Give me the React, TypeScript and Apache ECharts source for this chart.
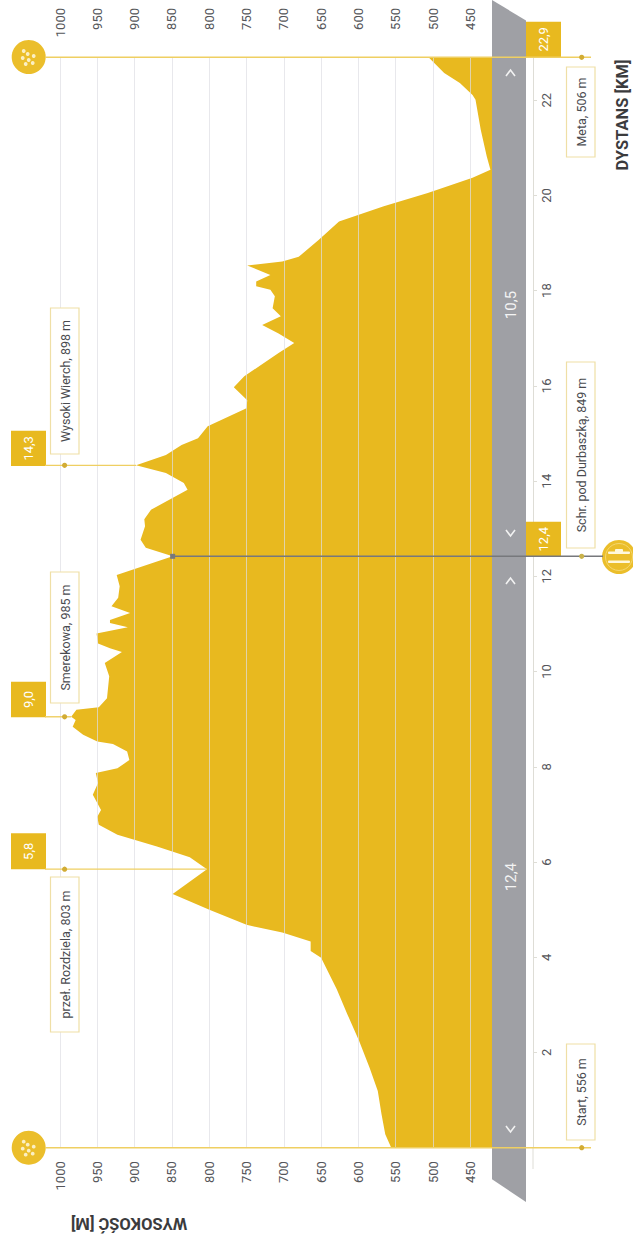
import React, { useEffect, useRef } from "react";
import * as echarts from "echarts";

const WIDTH = 633;
const HEIGHT = 1241;

// Route profile
const profileKm = [0, 0.28, 0.7, 1.19, 1.68, 2.24, 2.81, 3.33, 3.99, 4.13, 4.33, 4.52, 4.68, 4.99, 5.33, 5.85, 6.1, 6.32, 6.57, 6.78, 6.95, 7.09, 7.41, 7.66, 7.87, 7.97, 8.14, 8.32, 8.48, 8.53, 8.67, 8.84, 8.98, 9.05, 9.2, 9.25, 9.44, 9.9, 10.18, 10.41, 10.49, 10.59, 10.8, 10.93, 11.02, 11.08, 11.23, 11.37, 11.55, 11.79, 12.03, 12.42, 12.6, 12.77, 13.05, 13.2, 13.4, 13.82, 13.96, 14.17, 14.33, 14.55, 14.76, 14.9, 15.15, 15.53, 15.7, 15.97, 16.2, 16.69, 16.9, 17.1, 17.28, 17.46, 17.63, 17.88, 18.02, 18.09, 18.19, 18.33, 18.53, 18.61, 18.71, 19.07, 19.45, 19.77, 20.05, 20.37, 20.54, 20.82, 21.38, 22.01, 22.11, 22.36, 22.57, 22.9];
const profileElev = [556, 564, 569, 574, 585, 599, 615, 629, 650, 664, 664, 702, 750, 799, 849, 803, 826, 869, 923, 948, 950, 945, 956, 949, 952, 923, 907, 910, 929, 950, 969, 983, 979, 985, 978, 948, 937, 934, 940, 917, 933, 949, 951, 909, 933, 933, 906, 931, 922, 920, 924, 849, 885, 892, 886, 887, 878, 829, 834, 858, 898, 858, 837, 815, 802, 750, 749, 767, 753, 707, 686, 707, 729, 704, 715, 712, 718, 737, 737, 718, 749, 702, 680, 653, 626, 566, 507, 447, 423, 428, 436, 443, 447, 464, 485, 506];

// Elevation ticks and distance ticks
const elevationTicks = [1000, 950, 900, 850, 800, 750, 700, 650, 600, 550, 500, 450];
const distanceTicks = [2, 4, 6, 8, 10, 12, 14, 16, 18, 20, 22];

// Marked places
const markerKm = [0, 5.85, 9.05, 12.42, 14.33, 22.9];
const markerElev = [556, 803, 985, 849, 898, 506];
const sectionLabels = ["12,4", "10,5"];

const YELLOW = "#E8B91F";
const BOX_LINE = "#EFDFA6";
const GREY = "#9FA0A5";
const TEXT = "#55565A";

const gridLeft = 60;
const gridTop = 57.3;
const gridWidth = 447.6;
const gridHeight = 1090.4;

const rot = Math.PI / 2;

function labelBox(x: number, top: number, bottom: number, text: string) {
  return [
    { type: "rect", shape: { x, y: top, width: 28.5, height: bottom - top }, style: { fill: "#fff", stroke: BOX_LINE, lineWidth: 1.2 } },
    { type: "text", x: x + 14.5, y: (top + bottom) / 2, rotation: rot, style: { text, font: "12.5px Roboto", fill: "#4a4b4f", textAlign: "center", textVerticalAlign: "middle" } },
  ];
}

function numberBox(x: number, top: number, bottom: number, text: string) {
  return [
    { type: "rect", shape: { x, y: top, width: 35, height: bottom - top }, style: { fill: YELLOW } },
    { type: "text", x: x + 17.5, y: (top + bottom) / 2, rotation: rot, style: { text, font: "13px Roboto", fill: "#fff", textAlign: "center", textVerticalAlign: "middle" } },
  ];
}

function chevron(cy: number, up: boolean) {
  const d = up ? 3 : -3;
  return {
    type: "polyline",
    shape: { points: [[506, cy + d], [510.5, cy - d], [515, cy + d]] },
    style: { stroke: "#F2F2F2", lineWidth: 1.6, fill: "none" },
  };
}

function pawIcon(cx: number, cy: number) {
  const spots: number[][] = [[-5, -6], [-1, -3], [-6, 1], [0, 3], [5, -1], [-3, 7], [4, 6]];
  return [
    { type: "circle", shape: { cx, cy, r: 17 }, style: { fill: "#EBBE2B" } },
    ...spots.map(([dx, dy]) => ({ type: "circle", shape: { cx: cx + dx, cy: cy + dy, r: 1.9 }, style: { fill: "#FBEFC4" } })),
  ];
}

function mealIcon(cx: number, cy: number) {
  return [
    { type: "circle", shape: { cx, cy, r: 17 }, style: { fill: "#EBBE2B" } },
    { type: "circle", shape: { cx, cy, r: 13.5 }, style: { fill: "none", stroke: "#F5D770", lineWidth: 1 } },
    { type: "rect", shape: { x: cx - 11, y: cy - 5.5, width: 22, height: 2.4, r: 1 }, style: { fill: "#FFF8DC" } },
    { type: "rect", shape: { x: cx - 11, y: cy + 3.5, width: 22, height: 2.4, r: 1 }, style: { fill: "#FFF8DC" } },
    { type: "rect", shape: { x: cx - 4, y: cy - 8, width: 8, height: 3.5, r: 1 }, style: { fill: "#FFF8DC" } },
  ];
}

function renderProfile(params: any, api: any) {
  if (params.dataIndex !== 0) return null;
  const pts = profileKm.map((k, i) => api.coord([profileElev[i], k]));
  pts.push(api.coord([420, 22.9]));
  pts.push(api.coord([420, 0]));
  return { type: "polygon", shape: { points: pts }, style: { fill: YELLOW } };
}

function renderMarker(params: any, api: any) {
  const km = api.value(1) as number;
  const elev = api.value(0) as number;
  const [px, py] = api.coord([elev, km]);
  const out: any[] = [];
  const line = (x1: number, x2: number, stroke: string, w: number) =>
    out.push({ type: "line", shape: { x1, y1: py, x2, y2: py }, style: { stroke, lineWidth: w } });
  const dot = (cx: number, fill: string) =>
    out.push({ type: "circle", shape: { cx, cy: py, r: 2.6 }, style: { fill } });
  if (params.dataIndex === 0 || params.dataIndex === 5) {
    line(45, 591, "#EFCF62", 1.4);
    dot(581.7, "#D2AC34");
  } else if (params.dataIndex === 3) {
    line(px, 603, "#77787C", 1.4);
    dot(581.7, "#C9B24A");
    out.push({ type: "rect", shape: { x: px - 2.5, y: py - 2.5, width: 5, height: 5 }, style: { fill: "#77787C" } });
  } else {
    line(45, px, "#EFCF62", 1.4);
    dot(64.6, "#D2AC34");
  }
  return { type: "group", children: out };
}

// The upper row of elevation labels hangs from the top of the page
function renderTopLabel(params: any, api: any) {
  const e = api.value(0) as number;
  const [px] = api.coord([e, 22.9]);
  return {
    type: "text",
    x: px,
    y: 8,
    rotation: rot,
    style: { text: String(e), font: "13px Roboto", fill: TEXT, textAlign: "right", textVerticalAlign: "middle" },
  };
}

export default function App() {
  const ref = useRef<HTMLDivElement>(null);
  useEffect(() => {
    const chart = echarts.init(ref.current!, undefined, { renderer: "svg" });
    const elements: any[] = [
      { type: "polygon", shape: { points: [[492, 0], [526, 20.5], [526, 1202], [492, 1179.3]] }, style: { fill: GREY } },
      { type: "line", shape: { x1: 533, y1: 1147.7, x2: 533, y2: 1169 }, style: { stroke: "#DEDDD6", lineWidth: 1 } },
      chevron(73, true),
      chevron(533, false),
      chevron(581, true),
      chevron(1129, false),
      { type: "text", x: 510.5, y: 877, rotation: rot, style: { text: sectionLabels[0], font: "15px Roboto", fill: "#F4F4F4", textAlign: "center", textVerticalAlign: "middle" } },
      { type: "text", x: 510.5, y: 305, rotation: rot, style: { text: sectionLabels[1], font: "15px Roboto", fill: "#F4F4F4", textAlign: "center", textVerticalAlign: "middle" } },
      ...labelBox(566.5, 67, 157, "Meta, 506 m"),
      ...labelBox(566.5, 362, 548, "Schr. pod Durbaszką, 849 m"),
      ...labelBox(566.5, 1044, 1140, "Start, 556 m"),
      ...labelBox(50.5, 308, 454, "Wysoki Wierch, 898 m"),
      ...labelBox(50.5, 572, 703, "Smerekowa, 985 m"),
      ...labelBox(50.5, 877, 1032, "przeł. Rozdziela, 803 m"),
      ...numberBox(526, 21.7, 57, "22,9"),
      ...numberBox(526, 521.7, 556.7, "12,4"),
      ...numberBox(11, 430.7, 466, "14,3"),
      ...numberBox(11, 681.7, 717.3, "9,0"),
      ...numberBox(11, 833.3, 869.3, "5,8"),
      ...pawIcon(28.7, 57),
      ...pawIcon(28.7, 1147.7),
      ...mealIcon(619, 557),
      { type: "text", x: 622, y: 115, rotation: rot, style: { text: "DYSTANS [KM]", font: "bold 16.5px Roboto", fill: "#3B3B3D", textAlign: "center", textVerticalAlign: "middle" } },
      { type: "text", x: 129, y: 1223, rotation: Math.PI, style: { text: "WYSOKOŚĆ [M]", font: "bold 16.5px Roboto", fill: "#3B3B3D", textAlign: "center", textVerticalAlign: "middle" } },
    ];
    chart.setOption({
      animation: false,
      backgroundColor: "#fff",
      grid: { left: gridLeft, top: gridTop, width: gridWidth, height: gridHeight, containLabel: false, outerBoundsMode: "none" },
      xAxis: {
        type: "value",
        inverse: true,
        min: 400,
        max: 1000,
        interval: 50,
        z: 2,
        position: "bottom",
        axisLine: { show: false },
        axisTick: { show: false },
        splitLine: { show: true, lineStyle: { color: "rgba(222,222,228,0.7)", width: 1 } },
        axisLabel: {
          rotate: 90,
          verticalAlign: "middle",
          color: TEXT,
          fontFamily: "Roboto",
          fontSize: 13,
          customValues: elevationTicks,
          formatter: (v: number) => String(v),
          margin: 13.5,
        },
      },
      yAxis: {
        type: "value",
        min: 0,
        max: 22.9,
        position: "right",
        offset: 25.4,
        splitLine: { show: false },
        axisLine: { show: true, onZero: false, lineStyle: { color: "#DEDDD6", width: 1 } },
        axisTick: { show: true, length: 4, lineStyle: { color: "#DEDDD6" }, customValues: distanceTicks },
        axisLabel: {
          rotate: 90,
          align: "center",
          verticalAlign: "middle",
          margin: 13.7,
          color: TEXT,
          fontFamily: "Roboto",
          fontSize: 13,
          customValues: distanceTicks,
        },
      },
      graphic: { z: 3, elements: elements.map((e) => ({ ...e, z: 3 })) },
      series: [
        {
          type: "custom",
          name: "profile",
          z: 1,
          clip: false,
          renderItem: renderProfile,
          encode: { x: 0, y: 1 },
          data: profileKm.map((k, i) => [profileElev[i], k]),
        },
        {
          type: "custom",
          name: "markers",
          z: 4,
          clip: false,
          renderItem: renderMarker,
          encode: { x: 0, y: 1 },
          data: markerKm.map((k, i) => [markerElev[i], k]),
        },
        {
          type: "custom",
          name: "topLabels",
          z: 4,
          clip: false,
          renderItem: renderTopLabel,
          encode: { x: 0 },
          data: elevationTicks.map((e) => [e]),
        },
      ],
    });
    return () => chart.dispose();
  }, []);
  return <div ref={ref} style={{ position: "absolute", left: 0, top: 0, width: WIDTH, height: HEIGHT }} />;
}
